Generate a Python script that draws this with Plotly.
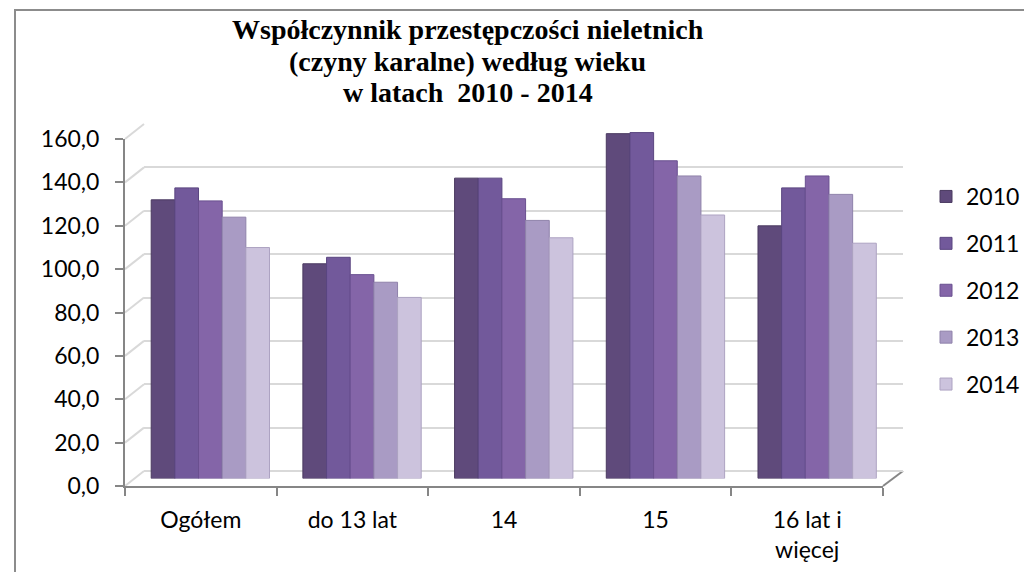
import plotly.graph_objects as go

# ---- data ----
categories = ["Ogółem", "do 13 lat", "14", "15", "16 lat i<br>więcej"]
years = ["2010", "2011", "2012", "2013", "2014"]
y2010 = [128.5, 99.0, 138.5, 159.0, 116.5]
y2011 = [134.0, 102.0, 138.5, 159.5, 134.0]
y2012 = [128.0, 94.0, 129.0, 146.5, 139.5]
y2013 = [120.5, 90.5, 119.0, 139.5, 131.0]
y2014 = [106.5, 83.5, 111.0, 121.5, 108.5]
series = [y2010, y2011, y2012, y2013, y2014]
colors = ["#5F4A7B", "#72599B", "#8465A8", "#A99BC4", "#CCC3DD"]
edge_colors = ["#4A3A60", "#5A4680", "#6A5090", "#8F82AA", "#ADA3C2"]
title_lines = ["Współczynnik przestępczości nieletnich",
               "(czyny karalne) według wieku",
               "w latach&nbsp; 2010 - 2014"]
y_ticks = [0, 20, 40, 60, 80, 100, 120, 140, 160]

W, H = 1032, 572
OFF = 8  # page body margin offset
def px(x):
    return (x - OFF) / W
def py(y):
    return 1 - (y - OFF) / H

FONT = "Lato"
fig = go.Figure()

# invisible trace to carry the front category axis (x2/y2)
fig.add_trace(go.Scatter(x=categories, y=[0] * len(categories), xaxis="x2", yaxis="y2",
                         mode="markers", marker=dict(opacity=0), showlegend=False,
                         hoverinfo="skip"))
# invisible trace for the back wall (x/y)
fig.add_trace(go.Scatter(x=categories, y=[0] * len(categories), xaxis="x", yaxis="y",
                         mode="markers", marker=dict(opacity=0), showlegend=False,
                         hoverinfo="skip"))

for name, vals, c, ec in zip(years, series, colors, edge_colors):
    fig.add_trace(go.Bar(x=categories, y=vals, name=name, xaxis="x3", yaxis="y3",
                         marker=dict(color=c, line=dict(color=ec, width=1)),
                         legendgroup=name))

# 3D-ish geometry (pixels)
front = dict(x0=125, x1=883, y0=486, y1=139)
back = dict(x0=144, x1=903, y0=471, y1=124)
mid = dict(x0=134.5, x1=893, y0=478.5, y1=131.5)
grid_col = "#D9D9D9"
axis_col = "#868686"

def frange(v):
    return front["y0"] + (front["y1"] - front["y0"]) * v / 160
def brange(v):
    return back["y0"] + (back["y1"] - back["y0"]) * v / 160

shapes = []
for v in y_ticks:
    shapes.append(dict(type="line", xref="paper", yref="paper", layer="below",
                       x0=px(front["x0"]), y0=py(frange(v)),
                       x1=px(back["x0"]), y1=py(brange(v)),
                       line=dict(color=grid_col, width=2)))
shapes.append(dict(type="line", xref="paper", yref="paper", layer="below",
                   x0=px(front["x1"]), y0=py(frange(0)),
                   x1=px(back["x1"]), y1=py(brange(0)),
                   line=dict(color=axis_col, width=2)))
# outer frame (left and top edges visible)
shapes.append(dict(type="rect", xref="paper", yref="paper", layer="below",
                   x0=px(15), y0=py(10), x1=px(1060), y1=py(600),
                   line=dict(color="#8C8C8C", width=2), fillcolor="rgba(0,0,0,0)"))

title_centers = [29.5, 61.0, 92.0]
annotations = [dict(text=t, xref="paper", yref="paper", x=px(467.5), y=py(yc),
                    xanchor="center", yanchor="middle", showarrow=False,
                    font=dict(family="Liberation Serif", size=28, color="black",
                              weight="bold"))
               for t, yc in zip(title_lines, title_centers)]

fig.update_layout(
    width=W, height=H,
    margin=dict(l=0, r=0, t=0, b=0, autoexpand=False),
    paper_bgcolor="white", plot_bgcolor="rgba(0,0,0,0)",
    separators=", ",
    font=dict(family=FONT, size=23, color="black"),
    barmode="group", bargap=0.22, bargroupgap=0,
    showlegend=True,
    legend=dict(x=px(926), y=py(175), xanchor="left", yanchor="top",
                font=dict(family=FONT, size=23), tracegroupgap=14,
                bgcolor="rgba(0,0,0,0)", itemwidth=30),
    # back wall gridlines
    xaxis=dict(domain=[px(back["x0"]), px(back["x1"])], type="category",
               range=[-0.5, 4.5], showgrid=False, showticklabels=False,
               showline=False, zeroline=False, ticks="", anchor="y"),
    yaxis=dict(domain=[py(back["y0"]), py(back["y1"])], range=[0, 160], dtick=20,
               showgrid=True, gridcolor=grid_col, gridwidth=2,
               zeroline=True, zerolinecolor=grid_col, zerolinewidth=2,
               showticklabels=False, showline=False, ticks="", anchor="x"),
    # front axes
    xaxis2=dict(domain=[px(front["x0"]), px(front["x1"])], type="category",
                range=[-0.5, 4.5], showgrid=False, zeroline=False,
                showline=True, linecolor=axis_col, linewidth=2,
                ticks="outside", tickson="boundaries", ticklen=8,
                tickcolor=axis_col, tickwidth=2, ticklabelstandoff=12,
                tickfont=dict(family=FONT, size=23), anchor="y2"),
    yaxis2=dict(domain=[py(front["y0"]), py(front["y1"])], range=[0, 160], dtick=20,
                tickformat=".1f", showgrid=False, zeroline=False,
                showline=True, linecolor=axis_col, linewidth=2,
                ticks="outside", ticklen=8, tickcolor=axis_col, tickwidth=2,
                ticklabelstandoff=11, tickfont=dict(family=FONT, size=23),
                anchor="x2"),
    # bars at mid depth
    xaxis3=dict(domain=[px(mid["x0"]), px(mid["x1"])], type="category",
                range=[-0.5, 4.5], showgrid=False, showticklabels=False,
                showline=False, zeroline=False, ticks="", anchor="y3"),
    yaxis3=dict(domain=[py(mid["y0"]), py(mid["y1"])], range=[0, 160],
                showgrid=False, showticklabels=False, showline=False,
                zeroline=False, ticks="", anchor="x3"),
    shapes=shapes,
    annotations=annotations,
)

fig.write_html("out.html")
